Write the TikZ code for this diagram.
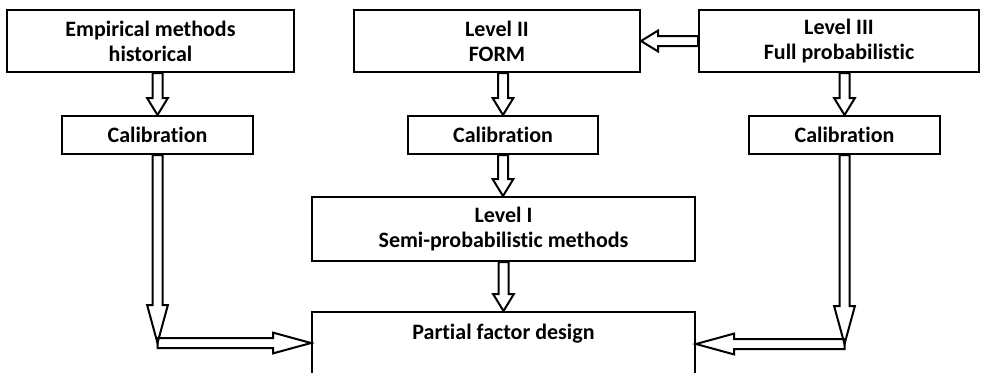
\documentclass[tikz,border=0pt]{standalone}
\usepackage{fontspec}
\setmainfont{Carlito}[Ligatures=NoCommon]
\usetikzlibrary{calc}

\newcommand{\blockarrow}[3][8.5pt]{%
	\coordinate (ba) at (#2);
	\coordinate (bb) at (#3);
	\coordinate (bm) at ($(bb)!#1!(ba)$);
	\draw[arrowline] ($(ba)!2.5pt!90:(bb)$) -- ($(bm)!2.5pt!-90:(ba)$) -- ($(bm)!5.2pt!-90:(ba)$) -- (bb)
		-- ($(bm)!5.2pt!90:(ba)$) -- ($(bm)!2.5pt!90:(ba)$) -- ($(ba)!2.5pt!-90:(bb)$) -- cycle;
}

\begin{document}
\begin{tikzpicture}[x=0.5pt,y=-0.5pt,
		box/.style={draw,line width=1pt,align=center,inner sep=0pt,
			font=\fontsize{11}{12.5}\selectfont\bfseries},
		arrowline/.style={line width=1pt,line join=miter}]
			\path[use as bounding box,clip](0,0)rectangle(981,372);
			\node[box,minimum width=143.5pt,minimum height=31pt](emp)at(150.5,41){Empirical methods\\historical};
			\node[box,minimum width=143pt,minimum height=31pt](lvl2)at(497,41){Level II\\FORM};
			\node[box,minimum width=140pt,minimum height=31pt](lvl3)at(839,41){Level III\\Full probabilistic};
			\node[box,minimum width=95.5pt,minimum height=19pt](cal1)at(157.5,135){Calibration};
			\node[box,minimum width=95pt,minimum height=19pt](cal2)at(503,135){Calibration};
			\node[box,minimum width=95.5pt,minimum height=19pt](cal3)at(844.5,135){Calibration};
			\node[box,minimum width=191.5pt,minimum height=32pt](lvl1)at(503.5,229){Level I\\Semi-probabilistic methods};
			\node[box,minimum width=191.5pt,inner ysep=3pt,text height=10.5pt,text depth=40pt,anchor=north](pfd)at(503.5,311){Partial factor design};
			\coordinate(lbend)at(159,343);
			\coordinate(rbend)at(843,344);
			\blockarrow{emp.south -| cal1.north}{cal1.north}
			\blockarrow{lvl2.south -| cal2.north}{cal2.north}
			\blockarrow{lvl3.south -| cal3.north}{cal3.north}
			\blockarrow{lvl3.west}{lvl2.east}
			\blockarrow{cal2.south}{lvl1.north -| cal2.south}
			\blockarrow{lvl1.south}{pfd.north}
			\blockarrow[19pt]{cal1.south}{cal1.south |- lbend}
			\blockarrow[19pt]{cal1.south |- lbend}{pfd.west |- lbend}
			\blockarrow[19pt]{cal3.south}{cal3.south |- rbend}
			\blockarrow[19pt]{cal3.south |- rbend}{pfd.east |- rbend}
		\end{tikzpicture}
\end{document}
